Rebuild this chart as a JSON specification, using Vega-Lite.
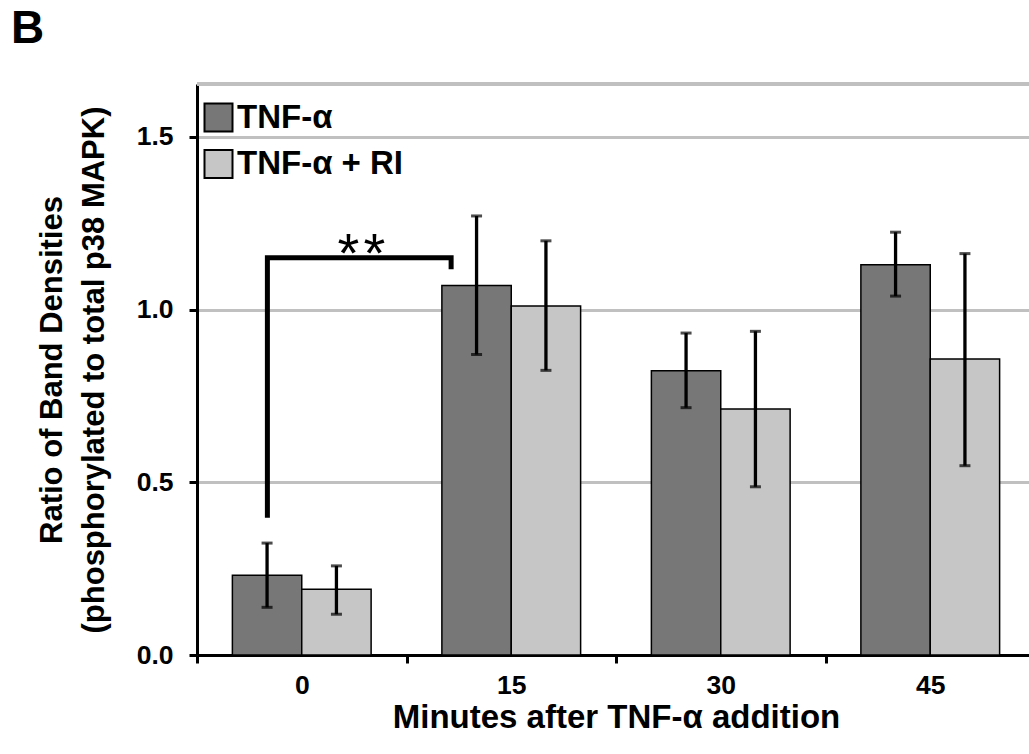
{
  "$schema": "https://vega.github.io/schema/vega-lite/v6.json",
  "width": 832,
  "height": 571,
  "autosize": {"type": "none"},
  "padding": {"left": 197, "top": 84, "right": 0, "bottom": 99},
  "background": "white",
  "title": {"text": "B", "fontSize": 46, "fontWeight": "bold", "font": "Liberation Sans", "color": "black", "anchor": "start", "frame": "group", "dx": -186, "dy": 42, "offset": 36, "baseline": "alphabetic"},
  "config": {"view": {"stroke": null}, "font": "Liberation Sans"},
  "datasets": {
    "bars": [
      {"minute": "0", "group": "TNF-α", "mean": 0.231, "lo": 0.138, "hi": 0.324},
      {"minute": "0", "group": "TNF-α + RI", "mean": 0.19, "lo": 0.118, "hi": 0.258},
      {"minute": "15", "group": "TNF-α", "mean": 1.07, "lo": 0.87, "hi": 1.271},
      {"minute": "15", "group": "TNF-α + RI", "mean": 1.01, "lo": 0.824, "hi": 1.199},
      {"minute": "30", "group": "TNF-α", "mean": 0.823, "lo": 0.716, "hi": 0.932},
      {"minute": "30", "group": "TNF-α + RI", "mean": 0.712, "lo": 0.487, "hi": 0.937},
      {"minute": "45", "group": "TNF-α", "mean": 1.13, "lo": 1.039, "hi": 1.224},
      {"minute": "45", "group": "TNF-α + RI", "mean": 0.857, "lo": 0.548, "hi": 1.162}
    ],
    "bracket": [
      {"i": 1, "bx": 0.336, "by": 0.397},
      {"i": 2, "bx": 0.336, "by": 1.15},
      {"i": 3, "bx": 1.213, "by": 1.15},
      {"i": 4, "bx": 1.213, "by": 1.117}
    ],
    "stars": [
      {"bx": 0.723, "by": 1.108, "label": "*"},
      {"bx": 0.847, "by": 1.108, "label": "*"}
    ]
  },
  "layer": [
    {
      "data": {"name": "bars"},
      "layer": [
        {
          "mark": {"type": "rule", "color": "#c0c0c0", "strokeWidth": 3},
          "encoding": {"y": {"datum": 1.653, "type": "quantitative", "scale": {"domain": [0, 1.653], "nice": false, "zero": true}}}
        },
        {
          "mark": {"type": "bar", "stroke": "black", "strokeWidth": 1.5},
          "encoding": {
            "x": {
              "field": "minute", "type": "nominal", "sort": ["0", "15", "30", "45"],
              "scale": {"range": [0, 838], "paddingInner": 0, "paddingOuter": 0},
              "axis": {
                "title": "Minutes after TNF-α addition",
                "titleFontSize": 33, "titleFontWeight": "bold", "titleColor": "black", "titlePadding": 3,
                "labelAngle": 0, "labelFontSize": 26.5, "labelFontWeight": "bold", "labelColor": "black", "labelPadding": 9,
                "domainColor": "black", "domainWidth": 3,
                "tickColor": "black", "tickWidth": 3, "tickSize": 8, "tickBand": "extent",
                "grid": false
              }
            },
            "xOffset": {"field": "group", "type": "nominal", "sort": ["TNF-α", "TNF-α + RI"], "scale": {"paddingInner": 0, "paddingOuter": 0.51}},
            "y": {
              "field": "mean", "type": "quantitative",
              "scale": {"domain": [0, 1.653], "nice": false, "zero": true},
              "axis": {
                "values": [0, 0.5, 1, 1.5], "format": ".1f",
                "grid": true, "gridColor": "#c0c0c0", "gridWidth": 3,
                "domainColor": "black", "domainWidth": 3,
                "tickColor": "black", "tickWidth": 3, "tickSize": 8,
                "labelFontSize": 26.5, "labelFontWeight": "bold", "labelColor": "black", "labelPadding": 16,
                "title": ["Ratio of Band Densities", "(phosphorylated to total p38 MAPK)"],
                "titleFontSize": 31, "titleFontWeight": "bold", "titleColor": "black", "titleLineHeight": 42, "titlePadding": 26
              }
            },
            "color": {
              "field": "group", "type": "nominal",
              "scale": {"domain": ["TNF-α", "TNF-α + RI"], "range": ["#777777", "#c6c6c6"]},
              "legend": {
                "orient": "none", "legendX": 5, "legendY": 17, "title": null, "padding": 0,
                "symbolType": "square", "symbolSize": 784, "symbolStrokeColor": "black", "symbolStrokeWidth": 2, "symbolOpacity": 1,
                "labelFontSize": 33, "labelFontWeight": "bold", "labelColor": "black", "labelFont": "Liberation Sans",
                "labelOffset": 2, "rowPadding": 9.6, "labelLimit": 400
              }
            }
          }
        },
        {
          "mark": {"type": "rule", "color": "black", "strokeWidth": 3.3},
          "encoding": {
            "x": {"field": "minute", "type": "nominal", "sort": ["0", "15", "30", "45"]},
            "xOffset": {"field": "group", "type": "nominal", "sort": ["TNF-α", "TNF-α + RI"]},
            "y": {"field": "lo", "type": "quantitative"},
            "y2": {"field": "hi"}
          }
        },
        {
          "mark": {"type": "tick", "color": "black", "thickness": 3, "size": 11},
          "encoding": {
            "x": {"field": "minute", "type": "nominal", "sort": ["0", "15", "30", "45"]},
            "xOffset": {"field": "group", "type": "nominal", "sort": ["TNF-α", "TNF-α + RI"]},
            "y": {"field": "lo", "type": "quantitative"}
          }
        },
        {
          "mark": {"type": "tick", "color": "black", "thickness": 3, "size": 11},
          "encoding": {
            "x": {"field": "minute", "type": "nominal", "sort": ["0", "15", "30", "45"]},
            "xOffset": {"field": "group", "type": "nominal", "sort": ["TNF-α", "TNF-α + RI"]},
            "y": {"field": "hi", "type": "quantitative"}
          }
        }
      ]
    },
    {
      "layer": [
        {
          "data": {"name": "bracket"},
          "mark": {"type": "line", "color": "black", "strokeWidth": 5, "strokeJoin": "miter", "strokeCap": "butt"},
          "encoding": {
            "x": {"field": "bx", "type": "quantitative", "scale": {"domain": [0, 4], "range": [0, 838], "nice": false, "zero": false}, "axis": null},
            "y": {"field": "by", "type": "quantitative"},
            "order": {"field": "i", "type": "quantitative"}
          }
        },
        {
          "data": {"name": "stars"},
          "mark": {"type": "text", "fontSize": 56, "font": "Liberation Sans", "color": "black", "baseline": "alphabetic", "align": "center"},
          "encoding": {
            "x": {"field": "bx", "type": "quantitative", "axis": null},
            "y": {"field": "by", "type": "quantitative"},
            "text": {"field": "label"}
          }
        }
      ]
    }
  ],
  "resolve": {"scale": {"x": "independent"}}
}
